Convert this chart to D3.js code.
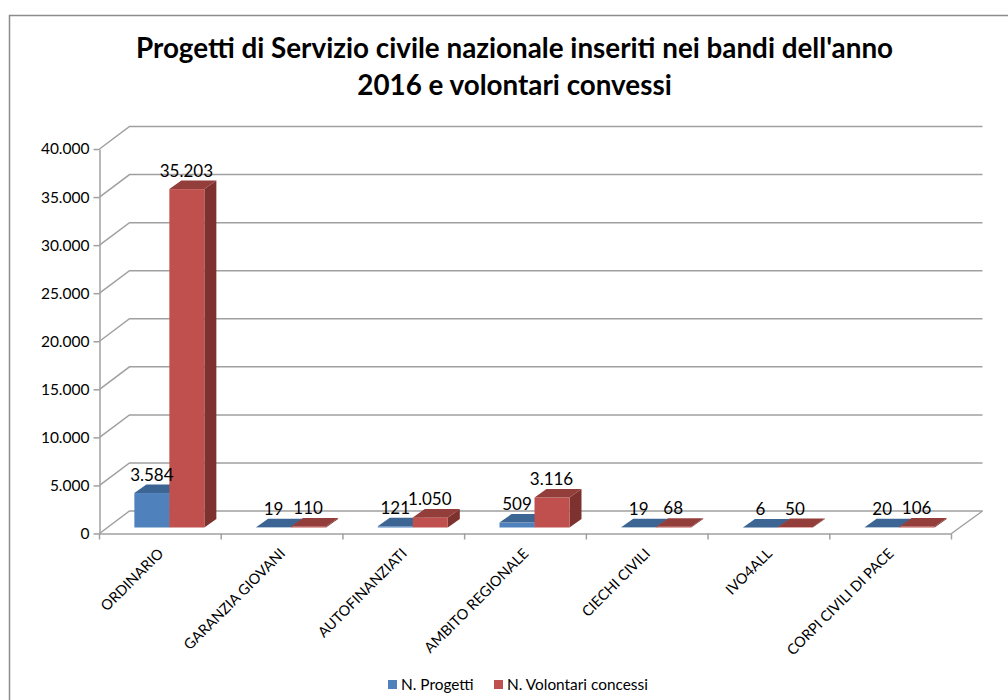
<!DOCTYPE html>
<html>
<head>
<meta charset="utf-8">
<script src="https://cdn.jsdelivr.net/npm/d3@7"></script>
<style>
html, body { margin: 0; padding: 0; background: #fff; }
svg { display: block; }
svg text { font-family: Lato, "Open Sans", sans-serif; }
</style>
</head>
<body>
<svg id="chart" width="1008" height="700"></svg>
<script>
// Data

var titleLines = ["Progetti di Servizio civile nazionale inseriti nei bandi dell'anno", "2016 e volontari convessi"];
var categories = ["ORDINARIO", "GARANZIA GIOVANI", "AUTOFINANZIATI", "AMBITO REGIONALE", "CIECHI CIVILI", "IVO4ALL", "CORPI CIVILI DI PACE"];
var seriesNames = ["N. Progetti", "N. Volontari concessi"];
var progetti = [3584, 19, 121, 509, 19, 6, 20];
var volontari = [35203, 110, 1050, 3116, 68, 50, 106];
var yTicks = [0, 5000, 10000, 15000, 20000, 25000, 30000, 35000, 40000];

// Layout

var svg = d3.select("#chart");
var left = 99.5, right = 951.5, top0 = 149, bottom = 533.5;
var wallDx = 30, wallDy = -22.5;
var barOffsetX = 9, barOffsetY = -6, barDx = 12, barDy = -8.5;

var colors = {
	"front": ["#4f81bd", "#c0504d"],
	"top": ["#3d6594", "#943e3b"],
	"side": ["#345680", "#7d3230"]
};

var x = d3.scaleBand().domain(categories).range([left, right]);
var xSeries = d3.scaleBand().domain(seriesNames).range([0, 70]);
var y = d3.scaleLinear().domain([0, 40000]).range([bottom, top0]);
var it = d3.formatLocale({ decimal: ",", thousands: ".", grouping: [3], currency: ["", "€"] });
var fmt = it.format(",d");
var grey = "#a0a0a0";

// Chart frame

svg.append("path")
	.attr("d", "M1008,15.5H9.5V700")
	.attr("fill", "none")
	.attr("stroke", "#8c8c8c")
	.attr("stroke-width", 1.5);

// Title

svg.append("g").selectAll("text")
	.data(titleLines)
	.join("text")
	.attr("x", 514.5)
	.attr("y", function(d, i) { return 58 + i * 37; })
	.attr("text-anchor", "middle")
	.attr("font-size", 27.8)
	.attr("font-weight", 700)
	.attr("fill", "#000")
	.text(function(d) { return d; });

// Walls and gridlines

var grid = svg.append("g").attr("fill", "none").attr("stroke", grey).attr("stroke-width", 1.5);

grid.selectAll("path.grid")
	.data(yTicks)
	.join("path")
	.attr("class", "grid")
	.attr("d", function(d) {
		return "M" + left + "," + y(d) + "L" + (left + wallDx) + "," + (y(d) + wallDy) + "H" + (right + wallDx + 1);
	});

grid.append("path")
	.attr("d", "M" + right + "," + y(0) + "L" + (right + wallDx + 1) + "," + (y(0) + wallDy));

// Axes

var yAxis = d3.axisLeft(y).tickValues(yTicks).tickFormat(fmt).tickSize(6).tickSizeOuter(0);
var yG = svg.append("g").attr("transform", "translate(" + left + ",0)").call(yAxis);
yG.selectAll("text").attr("font-size", 15.5).attr("fill", "#000").attr("x", -10);

var xAxis = d3.axisBottom(x).tickSize(0).tickSizeOuter(0);
var xG = svg.append("g").attr("transform", "translate(0," + bottom + ")").call(xAxis);
xG.selectAll("text")
	.attr("font-size", 14.5)
	.attr("fill", "#000")
	.attr("text-anchor", "end")
	.attr("dy", 0)
	.attr("y", 0)
	.attr("x", 0)
	.attr("transform", "translate(4,21) rotate(-45)");

svg.selectAll(".domain").attr("stroke", grey).attr("stroke-width", 1.5);
yG.selectAll("line").attr("stroke", grey).attr("stroke-width", 1.5);

svg.append("g").selectAll("line")
	.data(categories.concat(["end"]))
	.join("line")
	.attr("x1", function(d) { return d === "end" ? right : x(d); })
	.attr("x2", function(d) { return d === "end" ? right : x(d); })
	.attr("y1", bottom)
	.attr("y2", bottom + 6)
	.attr("stroke", grey)
	.attr("stroke-width", 1.5);

// Bars

var barData = [];
categories.forEach(function(c, i) {
	barData.push({ cat: c, s: 0, name: seriesNames[0], value: progetti[i] });
	barData.push({ cat: c, s: 1, name: seriesNames[1], value: volontari[i] });
});

function barX(d) {
	return x(d.cat) + (x.bandwidth() - xSeries.range()[1]) / 2 + barOffsetX + xSeries(d.name);
}

var bars = svg.append("g").selectAll("g")
	.data(barData)
	.join("g");

bars.append("path")
	.attr("fill", function(d) { return colors.side[d.s]; })
	.attr("d", function(d) {
		var x1 = barX(d) + xSeries.bandwidth(), b = y(0) + barOffsetY, t = y(d.value) + barOffsetY;
		return "M" + x1 + "," + b + "V" + t + "l" + barDx + "," + barDy + "V" + (b + barDy) + "Z";
	});

bars.append("rect")
	.attr("fill", function(d) { return colors.front[d.s]; })
	.attr("x", barX)
	.attr("y", function(d) { return y(d.value) + barOffsetY; })
	.attr("width", xSeries.bandwidth())
	.attr("height", function(d) { return y(0) - y(d.value); });

bars.append("path")
	.attr("fill", function(d) { return colors.top[d.s]; })
	.attr("d", function(d) {
		var x0 = barX(d), t = y(d.value) + barOffsetY;
		return "M" + x0 + "," + t + "l" + barDx + "," + barDy + "h" + xSeries.bandwidth() + "l" + (-barDx) + "," + (-barDy) + "Z";
	});

// Value labels

svg.append("g").selectAll("text")
	.data(barData)
	.join("text")
	.attr("x", function(d) { return barX(d) + xSeries.bandwidth() / 2 + (d.s === 0 ? 0 : -0.5); })
	.attr("y", function(d) { return y(d.value) + barOffsetY + barDy - 4; })
	.attr("text-anchor", "middle")
	.attr("font-size", 17)
	.attr("fill", "#000")
	.text(function(d) { return fmt(d.value); });

// Legend

var legendX = [388, 494];
var legend = svg.append("g").selectAll("g")
	.data(seriesNames)
	.join("g")
	.attr("transform", function(d, i) { return "translate(" + legendX[i] + ",680)"; });

legend.append("rect")
	.attr("width", 9)
	.attr("height", 9)
	.attr("fill", function(d, i) { return colors.front[i]; });

legend.append("text")
	.attr("x", 13)
	.attr("y", 9.5)
	.attr("font-size", 15.4)
	.attr("fill", "#000")
	.text(function(d) { return d; });
</script>
</body>
</html>
